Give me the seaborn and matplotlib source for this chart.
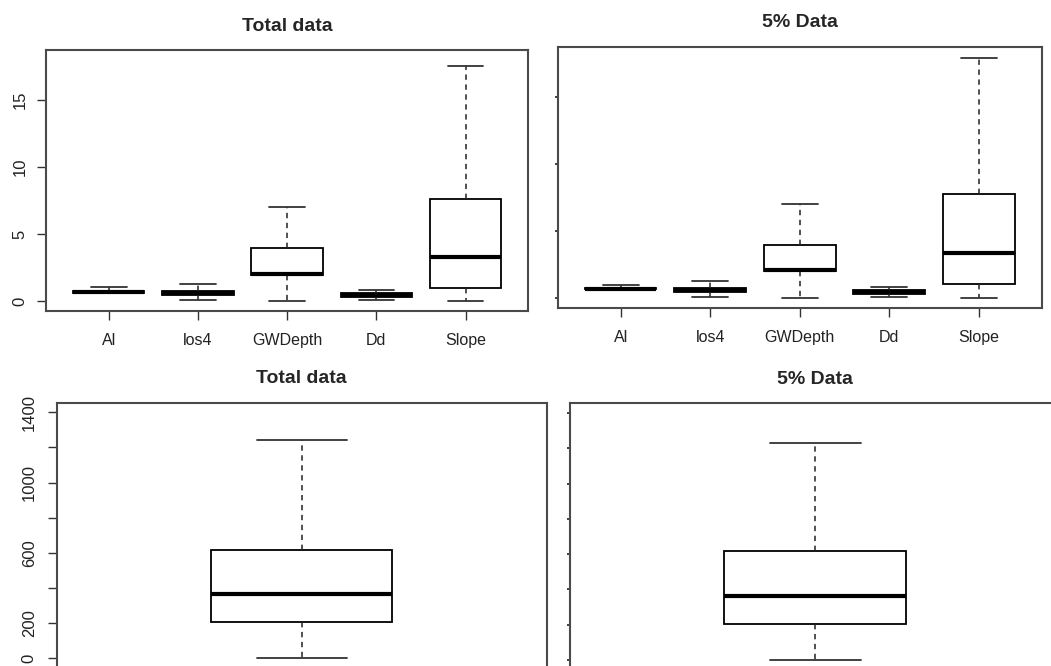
import numpy as np
import pandas as pd
import matplotlib
matplotlib.use("Agg")
import matplotlib.pyplot as plt
import seaborn as sns

sns.set_style("white")
plt.rcParams['font.family'] = ['Liberation Sans', 'DejaVu Sans']

# ---- data: five-number summaries [min, q1, median, q3, max] ----
variables = ["Al", "los4", "GWDepth", "Dd", "Slope"]
total_AI = [0.60, 0.63, 0.70, 0.76, 1.05]
total_los4 = [0.13, 0.45, 0.60, 0.77, 1.32]
total_GWDepth = [0.0, 1.95, 2.0, 3.95, 7.0]
total_Dd = [0.07, 0.30, 0.46, 0.60, 0.82]
total_Slope = [0.0, 1.02, 3.3, 7.6, 17.5]

pct5_AI = [0.65, 0.68, 0.72, 0.78, 1.02]
pct5_los4 = [0.13, 0.50, 0.65, 0.80, 1.32]
pct5_GWDepth = [0.0, 2.05, 2.12, 3.93, 7.0]
pct5_Dd = [0.07, 0.32, 0.45, 0.60, 0.82]
pct5_Slope = [0.0, 1.07, 3.39, 7.79, 17.87]

bottom_total = [0, 205, 367, 619, 1241]
bottom_pct5 = [0, 203, 363, 620, 1231]

titles_top = ["Total data", "5% Data"]
titles_bottom = ["Total data", "5% Data"]
top_yticks = [0, 5, 10, 15]
bottom_yticks = [0, 200, 400, 600, 800, 1000, 1200, 1400]
bottom_ylabels = ["0", "200", "", "600", "", "1000", "", "1400"]


def long_df(names, series):
    rows = []
    for n, s in zip(names, series):
        for v in s:
            rows.append((n, v))
    return pd.DataFrame(rows, columns=["var", "value"])


df_total = long_df(variables, [total_AI, total_los4, total_GWDepth, total_Dd, total_Slope])
df_pct5 = long_df(variables, [pct5_AI, pct5_los4, pct5_GWDepth, pct5_Dd, pct5_Slope])
df_b_total = long_df(["v"], [bottom_total])
df_b_pct5 = long_df(["v"], [bottom_pct5])

W, H = 1051, 666
fig = plt.figure(figsize=(W / 100, H / 100), dpi=100)


def px_axes(left, top, right, bottom):
    return fig.add_axes([left / W, (H - bottom) / H, (right - left) / W, (bottom - top) / H])


ax_tl = px_axes(46.3, 50, 528, 311)
ax_tr = px_axes(558, 46.7, 1041.5, 308)
ax_bl = px_axes(57, 402.5, 546.5, 668.1)
ax_br = px_axes(569.5, 403.3, 1061, 669.9)

box_kw = dict(color="white", linecolor="black", width=0.8, whis=(0, 100), fliersize=0,
              linewidth=1.3,
              medianprops=dict(linewidth=3.0, color="black"),
              whiskerprops=dict(linestyle=(0, (3.5, 3)), linewidth=1.1, color="#222222"),
              capprops=dict(linewidth=1.3, color="#333333"),
              boxprops=dict(edgecolor="black", linewidth=1.3))

sns.boxplot(data=df_total, x="var", y="value", ax=ax_tl, **box_kw)
sns.boxplot(data=df_pct5, x="var", y="value", ax=ax_tr, **box_kw)
sns.boxplot(data=df_b_total, x="var", y="value", ax=ax_bl, **box_kw)
sns.boxplot(data=df_b_pct5, x="var", y="value", ax=ax_br, **box_kw)

spine_col = "#4a4a4a"
for ax in [ax_tl, ax_tr, ax_bl, ax_br]:
    ax.set_xlabel("")
    ax.set_ylabel("")
    for s in ax.spines.values():
        s.set_visible(True)
        s.set_color(spine_col)
        s.set_linewidth(1.5)
    ax.tick_params(colors="#333333", labelcolor="#222222", labelsize=11,
                   bottom=True, left=True)

# top panels
for ax, t in zip([ax_tl, ax_tr], titles_top):
    ax.set_xlim(-0.7, 4.7)
    ax.set_ylim(-0.72, 18.72)
    ax.set_yticks(top_yticks)
    ax.set_xticks(range(len(variables)))
    ax.set_xticklabels(variables)
    ax.tick_params(axis="x", direction="out", length=6.5, width=1.0, pad=9, labelsize=11.5)
    ax.set_title(t, fontsize=14, fontweight="bold", pad=14)

ax_tl.tick_params(axis="y", direction="out", length=6.5, width=1.0, pad=7, labelsize=12)
for lab in ax_tl.get_yticklabels():
    lab.set_rotation(90)
    lab.set_va("center")
ax_tr.tick_params(axis="y", direction="out", length=2, width=1.3, labelleft=False)

# bottom panels
for ax, t in zip([ax_bl, ax_br], titles_bottom):
    ax.set_xlim(-1.083, 1.083)
    ax.set_ylim(-56, 1456)
    ax.set_yticks(bottom_yticks)
    ax.set_xticks([])
    ax.set_title(t, fontsize=14, fontweight="bold", pad=14)

ax_bl.set_yticklabels(bottom_ylabels)
ax_bl.tick_params(axis="y", direction="out", length=6.5, width=1.0, pad=8, labelsize=12)
for lab in ax_bl.get_yticklabels():
    lab.set_rotation(90)
    lab.set_va("center")
ax_br.tick_params(axis="y", direction="out", length=2, width=1.3, labelleft=False)

fig.savefig("out.png", dpi=100, facecolor="white")
